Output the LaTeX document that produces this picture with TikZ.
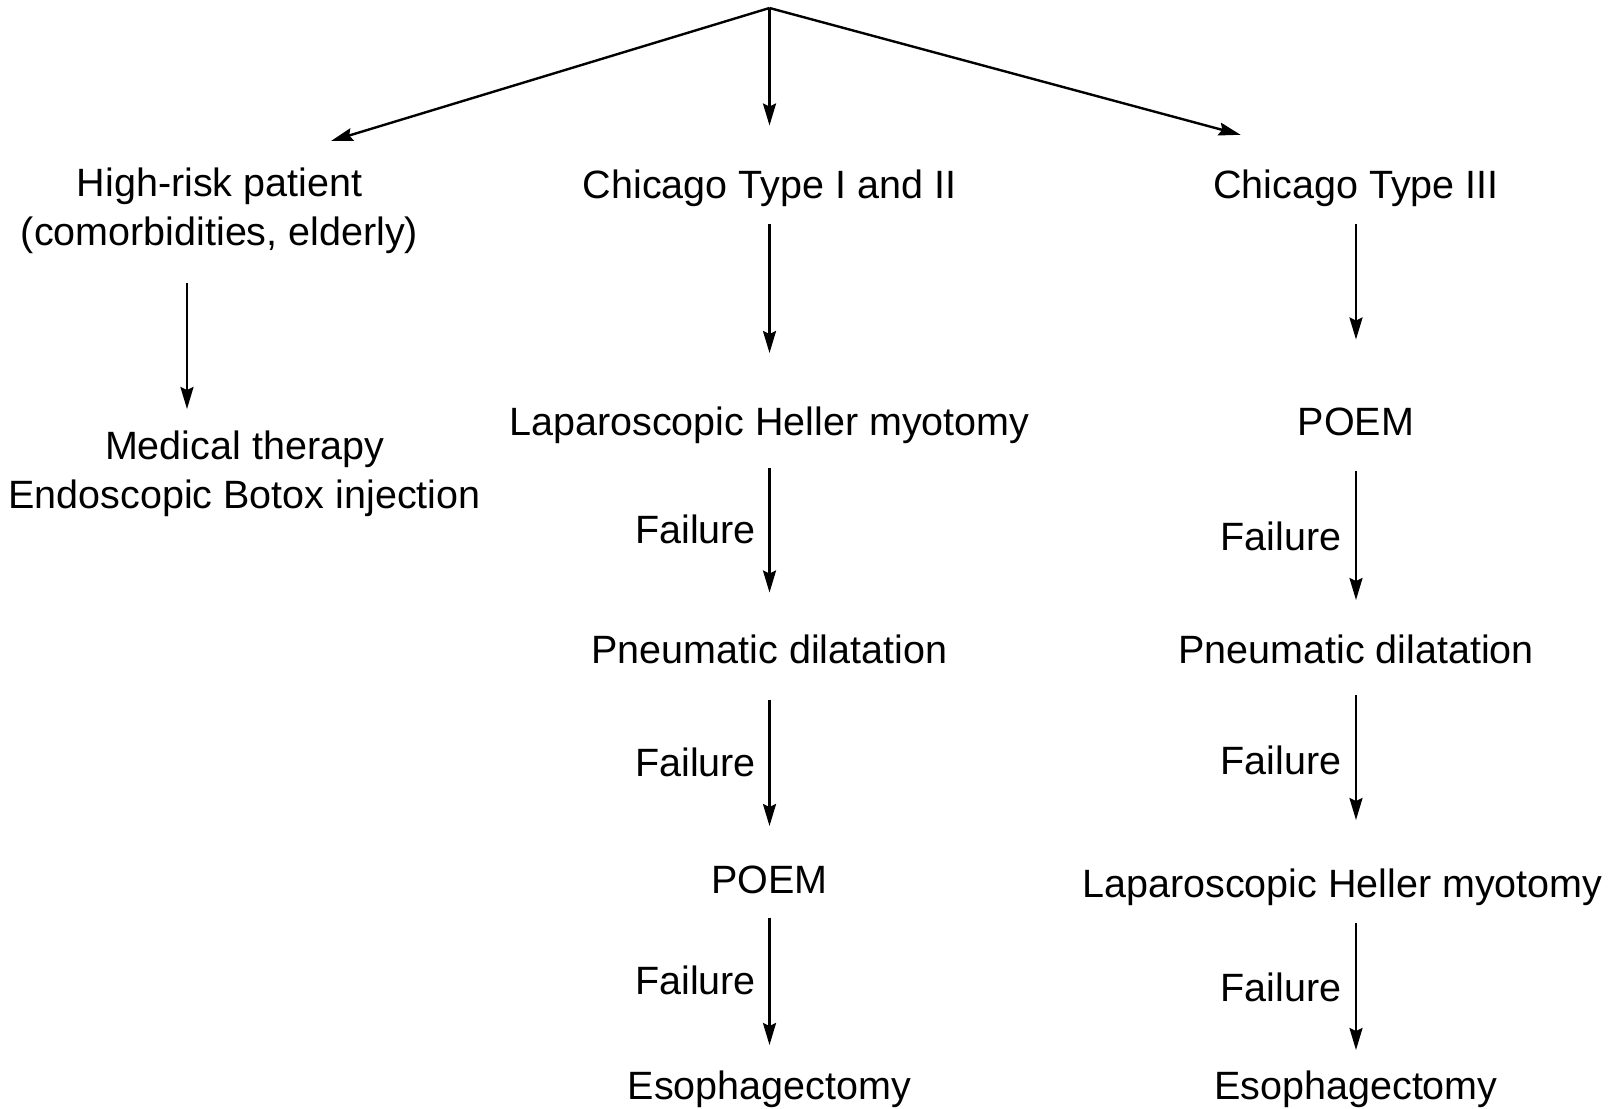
\documentclass[tikz,border=0pt]{standalone}
\usepackage{fontspec}
\setmainfont{Liberation Sans}
\usetikzlibrary{arrows.meta,calc}
\begin{document}
\begin{tikzpicture}[x=0.5pt,y=-0.5pt,
  lbl/.style={inner sep=0pt,align=center,font=\fontsize{19.75}{24.25}\selectfont,text height=17.25pt,text depth=4.15pt},
  lbl2/.style={inner sep=0pt,align=center,font=\fontsize{19.75}{24.25}\selectfont},
  arr/.style={line width=1.2pt,-{Stealth[length=11pt,width=6.5pt,inset=1.5pt]}}]
\useasboundingbox (0,0) rectangle (1613,1109);
\coordinate (root) at (769.5,8);
% left column
\node[lbl2] (hr) at (219.6,211) {High-risk patient\\(comorbidities, elderly)};
\node[lbl2] (med) at (244.5,474) {Medical therapy\\Endoscopic Botox injection};
% middle column
\node[lbl] (chi12) at (769.5,185) {Chicago Type I and II};
\node[lbl] (lhm) at (769.5,422) {Laparoscopic Heller myotomy};
\node[lbl] (pd) at (769.5,650) {Pneumatic dilatation};
\node[lbl] (poem) at (769.5,880.5) {POEM};
\node[lbl] (eso) at (769.5,1086) {Esophagectomy};
\node[lbl] (f1) at (695.5,530) {Failure};
\node[lbl] (f2) at (695.5,763) {Failure};
\node[lbl] (f3) at (695.5,981) {Failure};
% right column
\node[lbl] (chi3) at (1356,185) {Chicago Type III};
\node[lbl] (poemr) at (1356,422) {POEM};
\node[lbl] (pdr) at (1356,650) {Pneumatic dilatation};
\node[lbl] (lhmr) at (1342.5,884.7) {Laparoscopic Heller myotomy};
\node[lbl] (esor) at (1356,1086) {Esophagectomy};
\node[lbl] (fr1) at (1281,537) {Failure};
\node[lbl] (fr2) at (1281,761) {Failure};
\node[lbl] (fr3) at (1281,988.6) {Failure};
% top arrows
\draw[arr] (root) -- ($(hr)+(111.4,-70)$);
\draw[arr] (root) -- ($(chi12)+(0,-59.5)$);
\draw[arr] (root) -- ($(chi3)+(-115.4,-50.2)$);
% left
\draw[arr] ($(hr)+(-32.6,72)$) -- ($(med)+(-57.5,-65)$);
% middle
\draw[arr] ($(chi12)+(0,39)$) -- ($(lhm)+(0,-69)$);
\draw[arr] ($(lhm)+(0,46)$) -- ($(pd)+(0,-57.5)$);
\draw[arr] ($(pd)+(0,49.5)$) -- ($(poem)+(0,-54.5)$);
\draw[arr] ($(poem)+(0,37)$) -- ($(eso)+(0,-41)$);
% right
\draw[arr] ($(chi3)+(0,39)$) -- ($(poemr)+(0,-82.5)$);
\draw[arr] ($(poemr)+(0,49)$) -- ($(pdr)+(0,-50)$);
\draw[arr] ($(pdr)+(0,45)$) -- ($(lhmr)+(13.5,-64.7)$);
\draw[arr] ($(lhmr)+(13.5,38)$) -- ($(esor)+(0,-36)$);
\end{tikzpicture}
\end{document}
